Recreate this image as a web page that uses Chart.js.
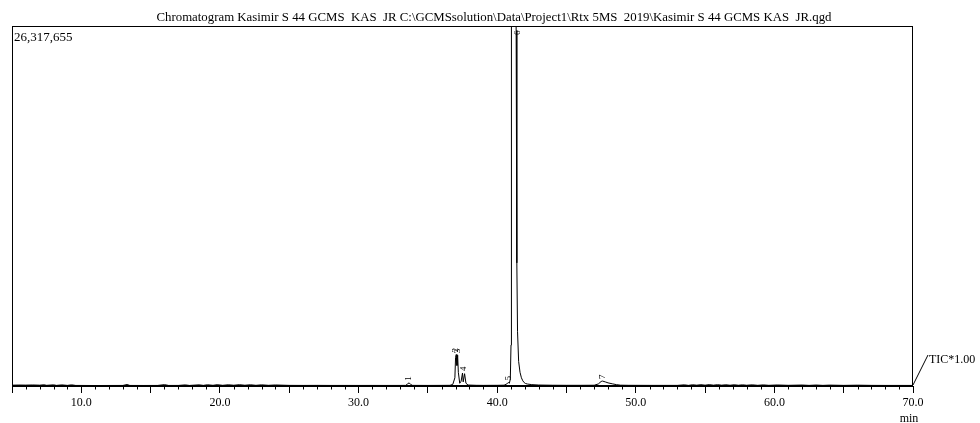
<!DOCTYPE html>
<html>
<head>
<meta charset="utf-8">
<script src="https://cdn.jsdelivr.net/npm/chart.js@4.4.0/dist/chart.umd.min.js"></script>
<style>
html,body{margin:0;padding:0;background:#fff;}
#wrap{width:980px;height:423px;position:relative;}
</style>
</head>
<body>
<div id="wrap"><canvas id="c" width="980" height="423"></canvas></div>
<script>
// ---- data (time in min, intensity in counts) ----
const times = [
 5.0,5.5,6.0,6.5,7.0,7.3,7.5,8.0,8.2,8.6,9.0,9.3,9.6,10.0,11.0,12.0,13.0,13.3,13.5,14.5,
 15.5,16.0,16.3,17.0,17.5,17.8,18.5,18.8,19.1,19.5,19.8,20.2,20.6,21.0,21.4,21.8,22.2,22.6,23.0,23.5,
 24.0,25.0,26.0,27.0,28.0,29.0,30.0,31.0,32.0,33.0,33.4,33.55,33.65,33.75,33.9,35.0,36.0,36.6,36.8,36.95,
 37.0,37.05,37.1,37.15,37.2,37.3,37.4,37.5,37.55,37.65,37.75,37.9,38.5,39.0,39.5,40.0,40.5,40.7,40.8,40.88,
 40.95,41.0,41.03,41.1,41.2,41.3,41.37,41.42,41.47,41.55,41.65,41.75,41.85,41.95,42.05,42.2,42.5,43.0,44.0,45.0,
 46.0,47.0,47.3,47.5,47.6,47.8,48.0,48.3,48.6,48.9,49.5,50.0,51.0,52.0,53.0,53.5,53.8,54.1,54.4,54.7,
 55.0,55.3,55.6,55.9,56.2,56.5,56.8,57.1,57.4,57.7,58.0,58.4,58.8,59.2,59.6,60.2,61.0,62.0,62.5,63.0,
 63.5,64.0,65.0,66.0,67.0,68.0,69.0,70.0
];
const intensity = [
 60000,70000,65000,75000,60000,90000,50000,85000,45000,80000,45000,85000,40000,40000,35000,38000,40000,110000,40000,38000,
 40000,100000,40000,42000,80000,40000,85000,45000,90000,50000,95000,50000,90000,55000,95000,55000,90000,50000,85000,50000,
 75000,45000,42000,45000,40000,42000,40000,42000,40000,42000,45000,160000,230000,120000,45000,42000,45000,50000,120000,600000,
 2100000,2300000,1500000,2250000,1000000,200000,350000,950000,300000,900000,200000,70000,50000,45000,48000,50000,60000,150000,260000,200000,
 500000,3000000,30000000,60000000,65000000,45000000,26000000,9000000,4000000,1800000,1000000,600000,380000,250000,180000,140000,100000,70000,55000,50000,
 50000,55000,150000,330000,360000,300000,230000,160000,100000,60000,50000,48000,45000,45000,45000,85000,45000,90000,60000,95000,
 60000,100000,60000,95000,60000,90000,55000,90000,55000,85000,55000,85000,50000,80000,50000,75000,50000,70000,45000,70000,
 45000,65000,45000,60000,45000,42000,42000,40000
];
// peak annotations
const peakLabels = ['1','2','3','4','5','6','7'];
const peakTimes  = [33.65, 37.03, 37.15, 37.6, 40.8, 41.5, 47.6];
const peakTops   = [230000, 2300000, 2250000, 950000, 260000, 26317655, 360000];
// axis
const yMax = 26317655;
const xMin = 5.0, xMax = 70.0;
const titleText = 'Chromatogram Kasimir S 44 GCMS  KAS  JR C:\\GCMSsolution\\Data\\Project1\\Rtx 5MS  2019\\Kasimir S 44 GCMS KAS  JR.qgd';
const yMaxLabel = '26,317,655';
const ticLabel = 'TIC*1.00';
const unitLabel = 'min';

const SERIF = '"Liberation Serif", "Times New Roman", serif';

const points = times.map((t, i) => ({x: t, y: intensity[i]}));

const decor = {
  id: 'decor',
  afterDraw(chart) {
    const ctx = chart.ctx;
    const a = chart.chartArea;
    const xs = chart.scales.x, ys = chart.scales.y;
    ctx.save();
    ctx.strokeStyle = '#000';
    ctx.fillStyle = '#000';
    ctx.lineWidth = 1;
    // frame
    ctx.strokeRect(Math.round(a.left) + 0.5, Math.round(a.top) + 0.5,
                   Math.round(a.right - a.left) - 1, Math.round(a.bottom - a.top) - 1);
    // minor ticks every minute
    const by = Math.round(a.bottom) - 0.5;
    ctx.beginPath();
    for (let m = Math.ceil(xMin); m <= xMax; m++) {
      if (m % 5 === 0) continue;
      const px = Math.round(xs.getPixelForValue(m)) + 0.5;
      ctx.moveTo(px, by);
      ctx.lineTo(px, by + 4);
    }
    ctx.stroke();
    // peak labels (rotated)
    ctx.font = '9px ' + SERIF;
    ctx.textBaseline = 'middle';
    ctx.textAlign = 'left';
    peakLabels.forEach((lab, i) => {
      const px = xs.getPixelForValue(peakTimes[i]);
      let py = ys.getPixelForValue(peakTops[i]) - 2;
      if (py < a.top + 10) py = a.top + 9;
      ctx.save();
      ctx.translate(px, py);
      ctx.rotate(-Math.PI / 2);
      ctx.fillText(lab, 0, 0);
      ctx.restore();
    });
    // max intensity label
    ctx.font = '13px ' + SERIF;
    ctx.textBaseline = 'alphabetic';
    ctx.fillText(yMaxLabel, a.left + 2, a.top + 15);
    // title, fitted to the reference width
    ctx.save();
    ctx.font = '13px ' + SERIF;
    const tw = ctx.measureText(titleText).width;
    const target = 675;
    ctx.translate(494 - target / 2, a.top - 5);
    ctx.scale(target / tw, 1);
    ctx.fillText(titleText, 0, 0);
    ctx.restore();
    // TIC marker
    const x70 = xs.getPixelForValue(xMax);
    ctx.beginPath();
    ctx.moveTo(x70, a.bottom - 1);
    ctx.lineTo(x70 + 15, a.bottom - 31);
    ctx.stroke();
    ctx.font = '12px ' + SERIF;
    ctx.fillText(ticLabel, x70 + 16, a.bottom - 23);
    // unit
    ctx.textAlign = 'center';
    ctx.fillText(unitLabel, x70 - 4, 422);
    ctx.restore();
  }
};

new Chart(document.getElementById('c'), {
  type: 'line',
  data: {
    datasets: [{
      data: points,
      borderColor: '#000',
      borderWidth: 1,
      pointRadius: 0,
      tension: 0,
      fill: false
    }]
  },
  options: {
    responsive: false,
    animation: false,
    events: [],
    layout: {padding: {left: 12, right: 67, top: 26, bottom: 9.6}},
    plugins: {legend: {display: false}, tooltip: {enabled: false}, title: {display: false}},
    scales: {
      x: {
        type: 'linear',
        min: xMin, max: xMax,
        grid: {drawOnChartArea: false, tickLength: 7, color: '#000', tickColor: '#000'},
        border: {display: true, color: '#000'},
        ticks: {
          stepSize: 5, autoSkip: false, maxRotation: 0, padding: 3,
          color: '#000', font: {family: SERIF, size: 12},
          callback: v => (v % 10 === 0 && v > xMin) ? v.toFixed(1) : ''
        }
      },
      y: {
        display: false,
        min: 0, max: yMax
      }
    }
  },
  plugins: [decor]
});
</script>
</body>
</html>
